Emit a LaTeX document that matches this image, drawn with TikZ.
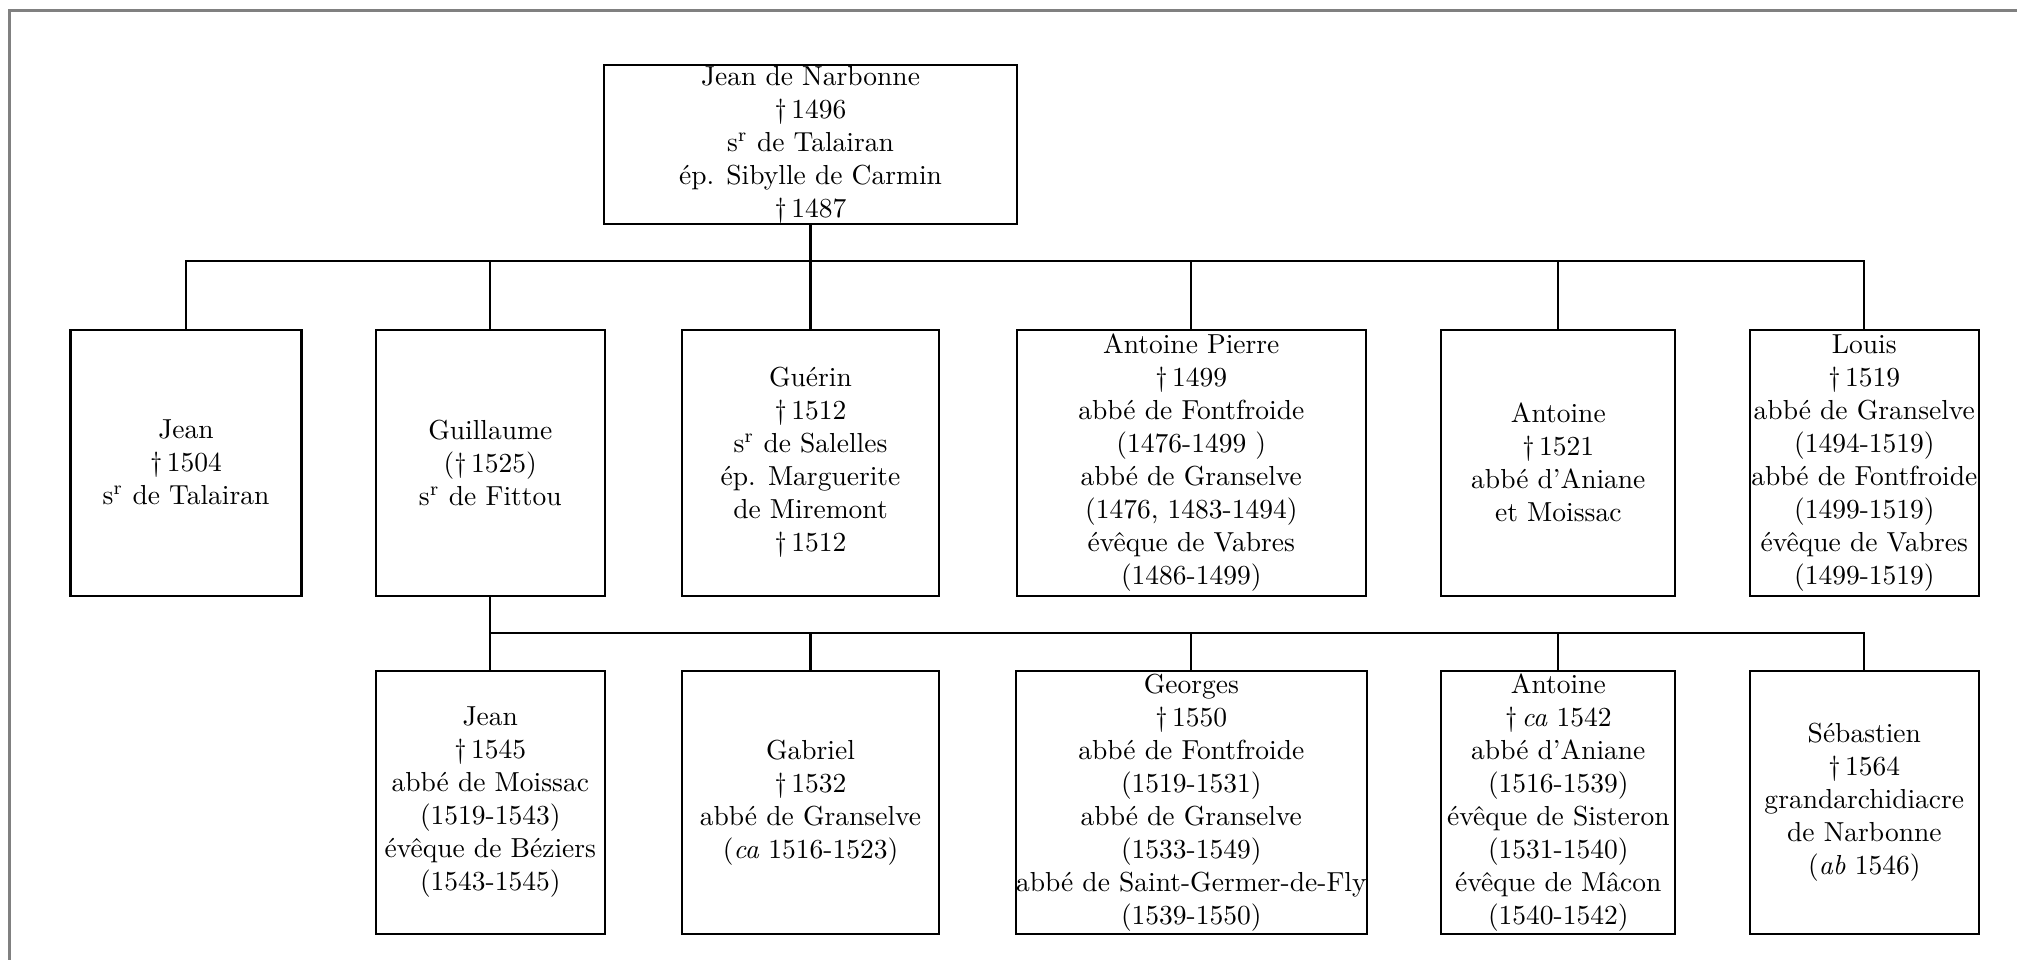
\documentclass[tikz,border=0pt]{standalone}
\usepackage{fontspec}
\usetikzlibrary{positioning}
\newcommand{\mort}{\dag\,}
\newcommand{\sire}{s\textsuperscript{r}}

\begin{document}
\begin{tikzpicture}[x=0.3636pt,y=-0.3636pt,
	person/.style={draw, line width=0.75pt, align=center, inner xsep=0pt, inner ysep=0pt},
	rowone/.style={person, minimum height=96.7pt},
	rowtwo/.style={person, minimum height=95.6pt},
	link/.style={line width=0.75pt}]
	\useasboundingbox (0,0) rectangle (2017,960);
	\draw [gray, line width=0.8pt] (9.5,960) -- (9.5,10.5) -- (2017,10.5);
	% parents
	\node [person, minimum width=150.2pt, minimum height=57.8pt] (narbonne) at (810.5,144.5)
	{Jean de Narbonne\\ \mort 1496\\ \sire{} de Talairan\\ ép. Sibylle de Carmin\\ \mort 1487};
	% children
	\node [rowone, minimum width=84pt] (jean) at (186,462.6)
	{Jean\\ \mort 1504\\ \sire{} de Talairan};
	\node [rowone, minimum width=83.1pt] (guillaume) at (490.3,462.6)
	{Guillaume\\ (\mort 1525)\\ \sire{} de Fittou};
	\node [rowone, minimum width=93.4pt] (guerin) at (810.5,462.6)
	{Guérin\\ \mort 1512\\ \sire{} de Salelles\\ ép. Marguerite\\ de Miremont\\ \mort 1512};
	\node [rowone, minimum width=127pt] (antpierre) at (1191.3,462.6)
	{Antoine Pierre\\ \mort 1499\\ abbé de Fontfroide\\ (1476-1499 )\\ abbé de Granselve\\ (1476, 1483-1494)\\ évêque de Vabres\\ (1486-1499)};
	\node [rowone, minimum width=85.1pt] (antoine) at (1558.3,462.6)
	{Antoine\\ \mort 1521\\ abbé d'Aniane\\ et Moissac};
	\node [rowone, minimum width=83.1pt] (louis) at (1864.3,462.6)
	{Louis\\ \mort 1519\\ abbé de Granselve\\ (1494-1519)\\ abbé de Fontfroide\\ (1499-1519)\\ évêque de Vabres\\ (1499-1519)};
	% grandchildren
	\node [rowtwo, minimum width=83.1pt] (jeanii) at (490.3,802.5)
	{Jean\\ \mort 1545\\ abbé de Moissac\\ (1519-1543)\\ évêque de Béziers\\ (1543-1545)};
	\node [rowtwo, minimum width=93.4pt] (gabriel) at (810.5,802.5)
	{Gabriel\\ \mort 1532\\ abbé de Granselve\\ (\textit{ca} 1516-1523)};
	\node [rowtwo, minimum width=127pt] (georges) at (1191.3,802.5)
	{Georges\\ \mort 1550\\ abbé de Fontfroide\\ (1519-1531)\\ abbé de Granselve\\ (1533-1549)\\ abbé de Saint-Germer-de-Fly\\ (1539-1550)};
	\node [rowtwo, minimum width=85.1pt] (antoineii) at (1558.3,802.5)
	{Antoine\\ \mort \textit{ca} 1542\\ abbé d'Aniane\\ (1516-1539)\\ évêque de Sisteron\\ (1531-1540)\\ évêque de Mâcon\\ (1540-1542)};
	\node [rowtwo, minimum width=83.1pt] (sebastien) at (1864.3,802.5)
	{Sébastien\\ \mort 1564\\ grandarchidiacre\\ de Narbonne\\ (\textit{ab} 1546)};
	% connectors
	\coordinate (busA) at (810.5,260.7);
	\coordinate (busB) at (490.3,633.3);
	\draw [link] (narbonne.south) -- (guerin.north);
	\draw [link] (jean.north) |- (busA) -| (louis.north);
	\foreach \kid in {guillaume,antpierre,antoine}
		\draw [link] (\kid.north) -- (\kid.north |- busA);
	\draw [link] (guillaume.south) -- (jeanii.north);
	\draw [link] (busB) -| (sebastien.north);
	\foreach \kid in {gabriel,georges,antoineii}
		\draw [link] (\kid.north) -- (\kid.north |- busB);
\end{tikzpicture}
\end{document}
